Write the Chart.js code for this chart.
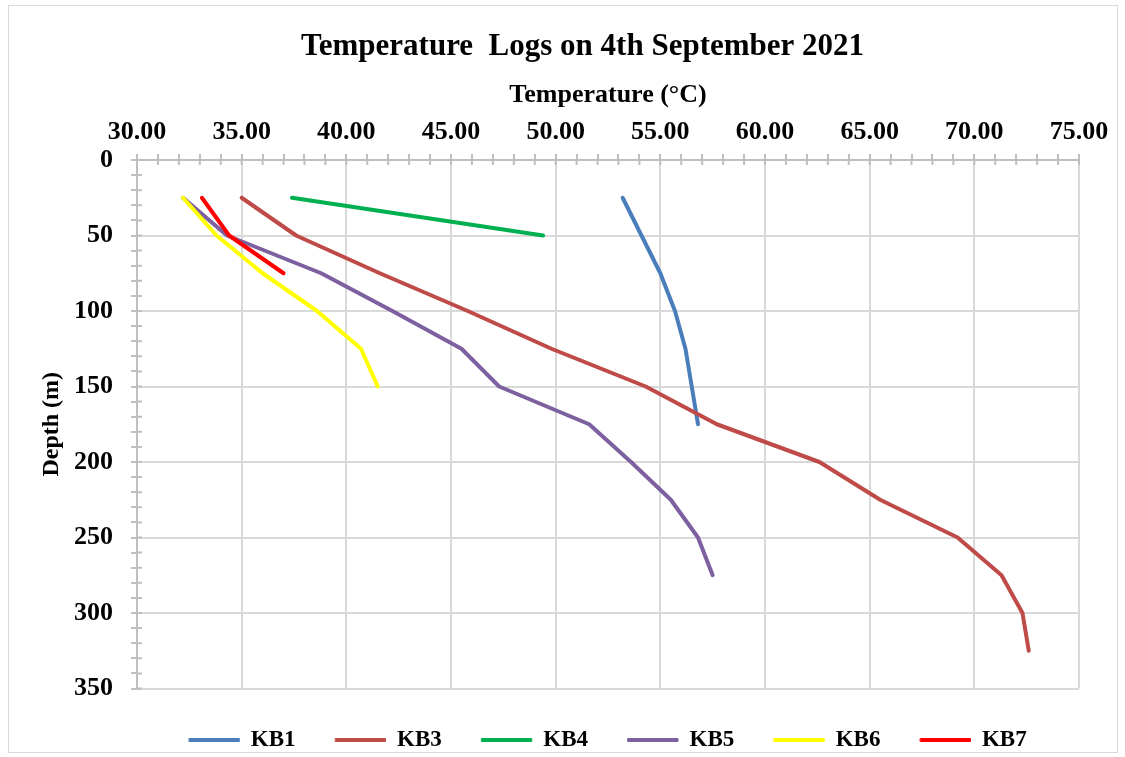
<!DOCTYPE html>
<html>
<head>
<meta charset="utf-8">
<script src="https://cdn.jsdelivr.net/npm/chart.js@4.4.0/dist/chart.umd.min.js"></script>
<style>
body { margin: 0; background: #fff; }
#frame { position: absolute; left: 8px; top: 5px; width: 1108px; height: 746px; border: 1px solid #d9d9d9; }
#wrap { position: absolute; left: 0; top: 0; width: 1125px; height: 757px; }
</style>
</head>
<body>
<div id="frame"></div>
<div id="wrap"><canvas id="tempChart"></canvas></div>
<script>
// Depth (m) and temperature (°C) per borehole
var depthKB1 = [25, 50, 75, 100, 125, 150, 175];
var tempKB1 = [53.2, 54.1, 55.0, 55.7, 56.2, 56.5, 56.8];

var depthKB3 = [25, 50, 75, 100, 125, 150, 175, 200, 225, 250, 275, 300, 325];
var tempKB3 = [35.0, 37.6, 41.6, 45.8, 49.8, 54.3, 57.7, 62.6, 65.5, 69.2, 71.3, 72.3, 72.6];

var depthKB4 = [25, 50];
var tempKB4 = [37.4, 49.4];

var depthKB5 = [25, 50, 75, 100, 125, 150, 175, 200, 225, 250, 275];
var tempKB5 = [32.2, 34.3, 38.8, 42.2, 45.5, 47.3, 51.6, 53.6, 55.5, 56.8, 57.5];

var depthKB6 = [25, 50, 75, 100, 125, 150];
var tempKB6 = [32.2, 33.8, 36.0, 38.6, 40.7, 41.5];

var depthKB7 = [25, 50, 75];
var tempKB7 = [33.1, 34.4, 37.0];

var FONT = "'Liberation Serif', 'Times New Roman', serif";

function points(temps, depths) {
	return temps.map(function (t, i) { return { x: t, y: depths[i] }; });
}

function series(label, temps, depths, color, order) {
	return {
		label: label,
		data: points(temps, depths),
		showLine: true,
		borderColor: color,
		backgroundColor: color,
		borderWidth: 4,
		pointRadius: 0,
		tension: 0,
		fill: false,
		borderJoinStyle: 'round',
		borderCapStyle: 'round',
		order: order
	};
}

// tick marks that cross into the plot area
var innerTicks = {
	id: 'innerTicks',
	beforeDatasetsDraw: function (chart) {
		var ctx = chart.ctx, xs = chart.scales.x, ys = chart.scales.y;
		ctx.save();
		ctx.strokeStyle = '#bfbfbf';
		ctx.lineWidth = 2;
		ctx.beginPath();
		xs.ticks.forEach(function (t) {
			var px = xs.getPixelForValue(t.value);
			ctx.moveTo(px, ys.top);
			ctx.lineTo(px, ys.top + 5);
		});
		ys.ticks.forEach(function (t) {
			var py = ys.getPixelForValue(t.value);
			ctx.moveTo(xs.left, py);
			ctx.lineTo(xs.left + 5, py);
		});
		ctx.stroke();
		ctx.restore();
	}
};

var ctx = document.getElementById('tempChart').getContext('2d');
new Chart(ctx, {
	type: 'scatter',
	data: {
		datasets: [
			series('KB1', tempKB1, depthKB1, '#4a7ebb', 6),
			series('KB3', tempKB3, depthKB3, '#be4b48', 5),
			series('KB4', tempKB4, depthKB4, '#00b050', 4),
			series('KB5', tempKB5, depthKB5, '#7d60a0', 3),
			series('KB6', tempKB6, depthKB6, '#ffff00', 2),
			series('KB7', tempKB7, depthKB7, '#ff0000', 1)
		]
	},
	options: {
		responsive: true,
		maintainAspectRatio: false,
		animation: false,
		layout: { padding: { left: 8, right: -32, top: 0, bottom: -4.5 } },
		plugins: {
			title: {
				display: true,
				text: 'Temperature  Logs on 4th September 2021',
				color: '#000',
				font: { family: FONT, size: 31, weight: 'bold' },
				padding: { top: 28.4, bottom: 0 }
			},
			legend: {
				position: 'bottom',
				fullSize: false,
				labels: {
					color: '#000',
					font: { family: FONT, size: 23, weight: 'bold' },
					boxWidth: 50,
					boxHeight: 3,
					padding: 40,
					sort: function (a, b) { return a.datasetIndex - b.datasetIndex; },
					generateLabels: function (chart) {
						return Chart.defaults.plugins.legend.labels.generateLabels(chart).map(function (l) {
							l.lineWidth = 1;
							return l;
						});
					}
				}
			},
			tooltip: { enabled: false }
		},
		scales: {
			x: {
				type: 'linear',
				position: 'top',
				min: 30,
				max: 75,
				title: {
					display: true,
					text: 'Temperature (°C)',
					color: '#000',
					font: { family: FONT, size: 26, weight: 'bold' },
					padding: { top: 13.8, bottom: 0 }
				},
				ticks: {
					stepSize: 1,
					autoSkip: false,
					maxRotation: 0,
					padding: 6,
					color: '#000',
					font: { family: FONT, size: 26, weight: 'bold' },
					callback: function (v) { return v % 5 === 0 ? v.toFixed(2) : ''; }
				},
				grid: {
					color: function (c) { return c.tick && c.tick.value % 5 === 0 ? '#d9d9d9' : 'rgba(0,0,0,0)'; },
					lineWidth: 2,
					tickLength: 6,
					tickColor: '#bfbfbf',
					tickWidth: 2
				},
				border: { color: '#bfbfbf', width: 2 },
				afterFit: function (s) { s.height = 94.4; }
			},
			y: {
				type: 'linear',
				reverse: true,
				min: 0,
				max: 350,
				title: {
					display: true,
					text: 'Depth (m)',
					color: '#000',
					font: { family: FONT, size: 24, weight: 'bold' },
					padding: { top: 29.6, bottom: 0 }
				},
				ticks: {
					stepSize: 10,
					autoSkip: false,
					padding: 18,
					color: '#000',
					font: { family: FONT, size: 26, weight: 'bold' },
					callback: function (v) { return v % 50 === 0 ? v : ''; }
				},
				grid: {
					color: function (c) { return c.tick && c.tick.value % 50 === 0 ? '#d9d9d9' : 'rgba(0,0,0,0)'; },
					lineWidth: 2,
					tickLength: 6,
					tickColor: '#bfbfbf',
					tickWidth: 2
				},
				border: { color: '#bfbfbf', width: 2 },
				afterFit: function (s) { s.width = 129; }
			},
			// empty right-hand spacer so the title centres like the original
			spacer: {
				type: 'linear',
				position: 'right',
				display: true,
				ticks: { display: false },
				grid: { display: false },
				border: { display: false },
				afterFit: function (s) { s.width = 78; }
			}
		}
	},
	plugins: [innerTicks]
});
</script>
</body>
</html>
